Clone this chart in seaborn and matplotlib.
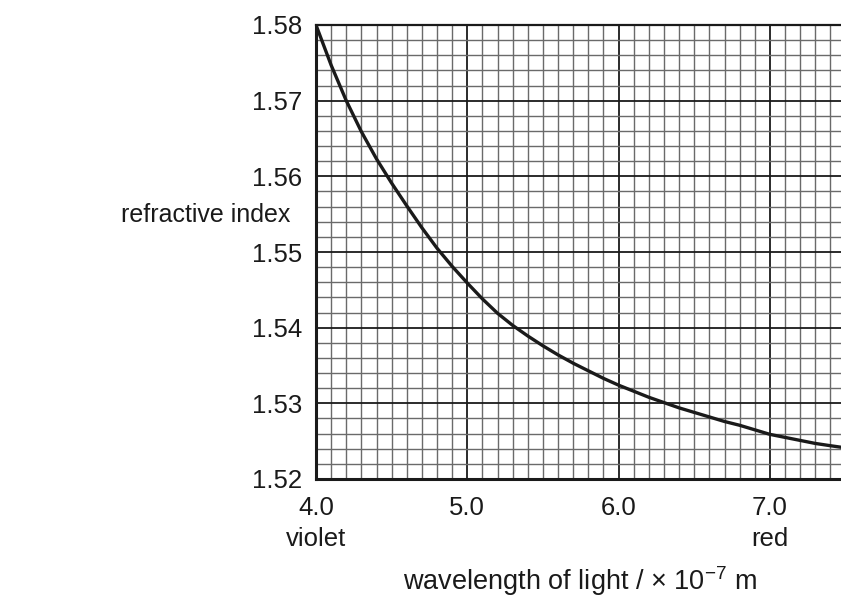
import numpy as np
import pandas as pd
import matplotlib
matplotlib.use("Agg")
import matplotlib.pyplot as plt
from matplotlib.ticker import MultipleLocator, FixedLocator
import seaborn as sns

# Data
wavelength = [4.0, 4.1, 4.2, 4.3, 4.4, 4.5, 4.6, 4.7, 4.8, 4.9,
              5.0, 5.1, 5.2, 5.3, 5.4, 5.5, 5.6, 5.7, 5.8, 5.9,
              6.0, 6.1, 6.2, 6.3, 6.4, 6.5, 6.6, 6.7, 6.8, 6.9,
              7.0, 7.1, 7.2, 7.3, 7.4, 7.47]
refractive_index = [1.5800, 1.5747, 1.5700, 1.5659, 1.5623, 1.5591, 1.5561, 1.5532, 1.5505, 1.5481,
                    1.5459, 1.5438, 1.5419, 1.5403, 1.5389, 1.5376, 1.5364, 1.5353, 1.5343, 1.5333,
                    1.5324, 1.5316, 1.5308, 1.5301, 1.5294, 1.5288, 1.5282, 1.5276, 1.5271, 1.5265,
                    1.5259, 1.5255, 1.5251, 1.5247, 1.5244, 1.5242]
x_ticks = [4.0, 5.0, 6.0, 7.0]
x_tick_labels = ["4.0\nviolet", "5.0", "6.0", "7.0\nred"]
y_ticks = [1.52, 1.53, 1.54, 1.55, 1.56, 1.57, 1.58]
y_tick_labels = ["1.52", "1.53", "1.54", "1.55", "1.56", "1.57", "1.58"]

sns.set_style("white")
plt.rcParams["font.family"] = ["Liberation Sans", "DejaVu Sans"]
plt.rcParams["mathtext.fontset"] = "custom"
plt.rcParams["mathtext.rm"] = "Liberation Sans"
plt.rcParams["mathtext.it"] = "Liberation Sans"

df = pd.DataFrame({"wavelength": wavelength, "n": refractive_index})

fig = plt.figure(figsize=(8.41, 5.97), dpi=100)
ax = fig.add_axes([316 / 841, (597 - 479) / 597, (841 - 316) / 841, (479 - 25) / 597])

sns.lineplot(data=df, x="wavelength", y="n", ax=ax, color="#1a1a1a",
             linewidth=2.4, zorder=5, sort=True)

ax.set_xlim(4.0, 7.47)
ax.set_ylim(1.52, 1.58)

ax.xaxis.set_major_locator(FixedLocator(x_ticks))
ax.set_xticklabels(x_tick_labels, fontsize=18.5, linespacing=1.4)
ax.xaxis.set_minor_locator(MultipleLocator(0.1))
ax.yaxis.set_major_locator(FixedLocator(y_ticks))
ax.set_yticklabels(y_tick_labels, fontsize=18.5)
ax.yaxis.set_minor_locator(MultipleLocator(0.002))

ax.grid(which="minor", color="#6a6a6a", linewidth=1.0, zorder=1)
ax.grid(which="major", color="#1a1a1a", linewidth=1.3, zorder=2)
ax.set_axisbelow(True)

ax.tick_params(axis="both", which="major", direction="out", length=8, width=1.6,
               color="#1a1a1a", labelcolor="#1a1a1a", pad=4)
ax.tick_params(axis="both", which="minor", length=0)
ax.tick_params(axis="y", pad=2)

for side in ["left", "bottom", "top"]:
    ax.spines[side].set_visible(True)
    ax.spines[side].set_color("#1a1a1a")
ax.spines["left"].set_linewidth(2.2)
ax.spines["bottom"].set_linewidth(2.2)
ax.spines["top"].set_linewidth(1.6)
ax.spines["right"].set_visible(False)

ax.set_xlabel("")
ax.set_ylabel("")

fig.text(121 / 841, 1 - 215 / 597, "refractive index", fontsize=18,
         ha="left", va="center", color="#1a1a1a")
fig.text(580 / 841, 1 - 581 / 597, r"wavelength of light / × 10$^{-7}$ m",
         fontsize=19.5, ha="center", va="center", color="#1a1a1a")

fig.savefig("out.png", dpi=100)
